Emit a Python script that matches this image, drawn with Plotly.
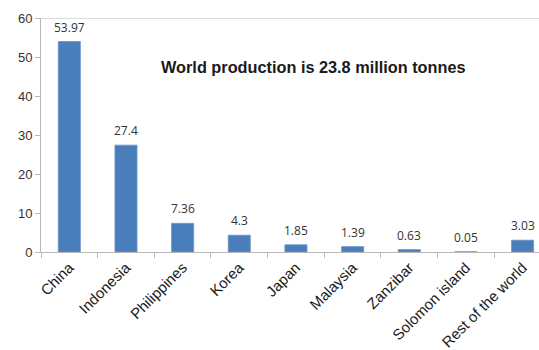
import plotly.graph_objects as go

# Seaweed production share by country (%)
countries = ["China", "Indonesia", "Philippines", "Korea", "Japan",
             "Malaysia", "Zanzibar", "Solomon island", "Rest of the world"]
shares = [53.97, 27.4, 7.36, 4.3, 1.85, 1.39, 0.63, 0.05, 3.03]
value_labels = ["53.97", "27.4", "7.36", "4.3", "1.85", "1.39", "0.63", "0.05", "3.03"]
y_ticks = [0, 10, 20, 30, 40, 50, 60]

bar_color = "#4a7ebb"
text_color = "#333333"

fig = go.Figure()
fig.add_trace(go.Bar(
    x=countries, y=shares, width=0.39,
    marker=dict(color=bar_color, line=dict(color="#6b95c8", width=0.8)),
    showlegend=False,
))

# value labels above each bar
for c, v, t in zip(countries, shares, value_labels):
    fig.add_annotation(x=c, y=v, text=t, showarrow=False, yanchor="bottom",
                       yshift=4, font=dict(family="Open Sans, Liberation Sans",
                                           size=12, color=text_color))

fig.add_annotation(xref="paper", yref="paper", x=0.548, y=0.79,
                   text="<b>World production is 23.8 million tonnes</b>",
                   showarrow=False, xanchor="center", yanchor="middle",
                   font=dict(family="Liberation Sans, Arial", size=16.3, color="#1a1a1a"))

# top frame line of the plot area
fig.add_shape(type="line", xref="paper", yref="y", x0=0, x1=1, y0=60, y1=60,
              line=dict(color="#b8b8b8", width=1))

fig.update_layout(
    width=539, height=350,
    margin=dict(l=41, r=0, t=18, b=98),
    paper_bgcolor="white", plot_bgcolor="white",
    bargap=0.6,
)
fig.update_xaxes(
    type="category", range=[-0.5, 8.29],
    showline=True, linecolor="#b8b8b8", linewidth=1,
    ticks="outside", tickson="boundaries", ticklen=5, tickcolor="#b8b8b8",
    tickangle=-45, showgrid=False,
    tickfont=dict(family="Liberation Sans, Arial", size=15, color="#1a1a1a"),
)
fig.update_yaxes(
    range=[0, 60], tickvals=y_ticks, showgrid=False, zeroline=False,
    showline=True, linecolor="#b8b8b8", linewidth=1,
    ticks="outside", ticklen=5, tickcolor="#b8b8b8",
    tickfont=dict(family="Liberation Sans, Arial", size=13, color="#333333"),
)

fig.write_html("out.html")
